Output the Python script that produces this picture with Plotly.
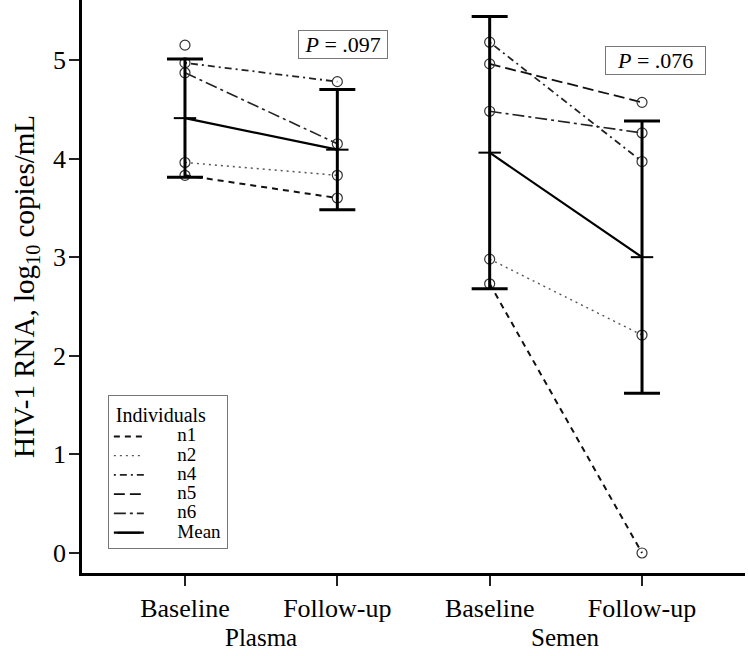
import plotly.graph_objects as go

# Positions: 1 = Plasma Baseline, 2 = Plasma Follow-up, 3 = Semen Baseline, 4 = Semen Follow-up
tick_pos = [1, 2, 3, 4]
tick_labels = ["Baseline", "Follow-up", "Baseline", "Follow-up"]
group_labels = ["Plasma", "Semen"]

individuals = ["n1", "n2", "n4", "n5", "n6"]
plasma_baseline = [3.83, 3.96, 4.97, 5.15, 4.87]
plasma_followup = [3.60, 3.83, 4.78, None, 4.15]
semen_baseline = [2.73, 2.98, 5.18, 4.96, 4.48]
semen_followup = [0.00, 2.21, 3.97, 4.57, 4.26]

mean_plasma = [4.41, 4.09]
sd_plasma = [0.60, 0.61]
mean_semen = [4.06, 3.00]
sd_semen = [1.38, 1.38]

p_values = ["<i>P</i> = .097", "<i>P</i> = .076"]

styles = {
    "n1": dict(dash="6px,5px", width=2.0, color="#111111"),
    "n2": dict(dash="2px,4px", width=1.4, color="#555555"),
    "n4": dict(dash="2px,4px,7px,4px", width=1.8, color="#222222"),
    "n5": dict(dash="11px,5px", width=1.8, color="#111111"),
    "n6": dict(dash="12px,4px,3px,4px", width=1.6, color="#222222"),
}

FONT = "Liberation Serif"
NB = "\u00a0"
LEG_SPAN = '<span style="font-size:19px">{}</span>'
fig = go.Figure()

for i, name in enumerate(individuals):
    xs = [1, 2, None, 3, 4]
    ys = [plasma_baseline[i], plasma_followup[i], None, semen_baseline[i], semen_followup[i]]
    fig.add_trace(go.Scatter(
        x=xs, y=ys, mode="lines", name=LEG_SPAN.format(NB * 6 + name), connectgaps=False,
        line=styles[name],
    ))
    fig.add_trace(go.Scatter(
        x=xs, y=ys, mode="markers", showlegend=False,
        marker=dict(symbol="circle-open", size=10, color="#333333", line=dict(width=1.2)),
    ))

# mean with error bars (±SD)
fig.add_trace(go.Scatter(
    x=[1, 2, None, 3, 4],
    y=[mean_plasma[0], mean_plasma[1], None, mean_semen[0], mean_semen[1]],
    mode="lines+markers", name=LEG_SPAN.format(NB * 6 + "Mean"),
    line=dict(color="black", width=2.2),
    marker=dict(symbol="line-ew-open", size=16, color="black", line=dict(width=2, color="black")),
    error_y=dict(type="data", array=[sd_plasma[0], sd_plasma[1], 0, sd_semen[0], sd_semen[1]],
                 thickness=3, width=18, color="black"),
))

fig.add_annotation(x=2.037, y=5.16, text=NB + p_values[0] + NB, showarrow=False,
                   font=dict(family=FONT, size=22, color="black"),
                   bordercolor="#777777", borderwidth=1, borderpad=1, bgcolor="white")
fig.add_annotation(x=4.086, y=4.99, text=NB * 2 + p_values[1] + NB * 2, showarrow=False,
                   font=dict(family=FONT, size=22, color="black"),
                   bordercolor="#777777", borderwidth=1, borderpad=1, bgcolor="white")

fig.add_annotation(x=1.5, y=-0.112, yref="paper", yanchor="middle", text=group_labels[0],
                   showarrow=False, font=dict(family=FONT, size=25, color="black"))
fig.add_annotation(x=3.5, y=-0.112, yref="paper", yanchor="middle", text=group_labels[1],
                   showarrow=False, font=dict(family=FONT, size=25, color="black"))

fig.update_layout(
    width=748, height=656,
    margin=dict(l=82, r=3, t=0, b=83),
    plot_bgcolor="white", paper_bgcolor="white",
    font=dict(family=FONT, size=20, color="black"),
    showlegend=True,
    legend=dict(
        title=dict(text=NB + "Individuals", font=dict(family=FONT, size=20)),
        x=0.039, y=0.311, xanchor="left", yanchor="top",
        bordercolor="#777777", borderwidth=1, bgcolor="white",
        font=dict(family=FONT, size=12.5), tracegroupgap=0,
    ),
    xaxis=dict(
        range=[0.324, 4.676], tickvals=tick_pos, ticktext=tick_labels,
        showgrid=False, zeroline=False, showline=True, linecolor="black", linewidth=2.5,
        ticks="outside", ticklen=10, tickwidth=1.5, tickcolor="#222222",
        tickfont=dict(family=FONT, size=26), ticklabelstandoff=0,
    ),
    yaxis=dict(
        range=[-0.203, 5.608], tickvals=[0, 1, 2, 3, 4, 5],
        showgrid=False, zeroline=False, showline=True, linecolor="black", linewidth=2.5,
        ticks="outside", ticklen=10, tickwidth=1.5, tickcolor="#222222",
        tickfont=dict(family=FONT, size=26), ticklabelstandoff=-2,
        title=dict(text="HIV-1 RNA, log<sub>10</sub> copies/mL", font=dict(family=FONT, size=29), standoff=10),
    ),
)

fig.write_html("out.html", config={"displayModeBar": False},
               post_script="document.body.style.margin='0px';")
